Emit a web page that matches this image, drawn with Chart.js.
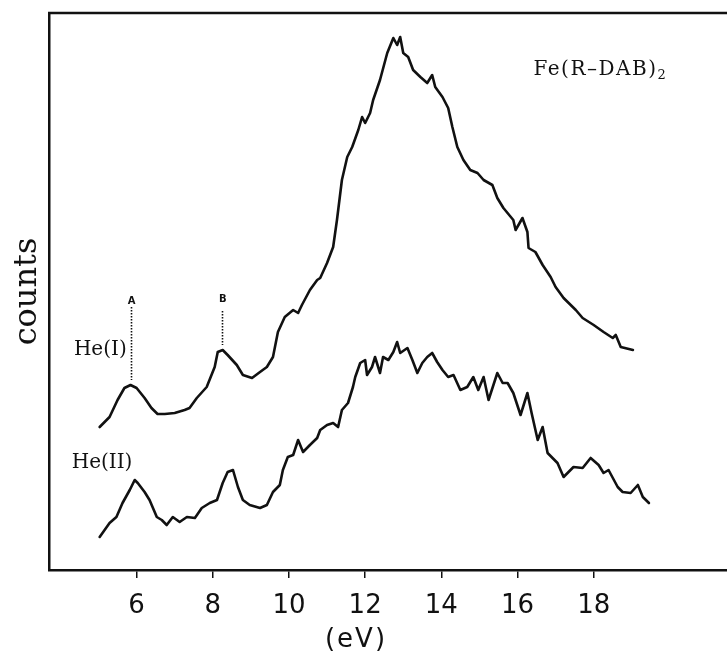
<!DOCTYPE html>
<html><head><meta charset="utf-8">
<script src="https://cdn.jsdelivr.net/npm/chart.js@4.4.1/dist/chart.umd.min.js"></script>
<style>html,body{margin:0;padding:0;background:#fff}canvas{display:block}</style>
</head><body>
<canvas id="c" width="727" height="651"></canvas>
<script>
// ---- data (photon energy in eV, counts in arbitrary units) ----
const xTicks = [6, 8, 10, 12, 14, 16, 18];

const heI_eV = [5.03,5.29,5.50,5.68,5.84,6.00,6.21,6.39,6.55,6.74,7.00,7.26,7.39,7.58,7.84,8.05,8.13,8.26,8.39,8.63,8.79,9.03,9.24,9.42,9.58,9.71,9.89,10.11,10.24,10.34,10.55,10.74,10.82,11.00,11.16,11.26,11.39,11.53,11.66,11.82,11.92,12.00,12.13,12.21,12.39,12.58,12.74,12.84,12.92,13.00,13.13,13.26,13.45,13.63,13.76,13.84,14.03,14.18,14.29,14.42,14.58,14.76,14.95,15.11,15.34,15.47,15.63,15.89,15.95,16.13,16.26,16.29,16.47,16.66,16.87,17.00,17.21,17.53,17.71,18.00,18.26,18.50,18.58,18.71,19.03];
const heI_counts = [143,153,170,182,185,182,172,162,156,156,157,160,162,172,183,203,218,220,215,205,195,192,198,203,213,238,253,260,257,265,280,290,292,307,323,350,390,413,423,440,453,447,457,470,490,517,532,525,533,517,513,500,493,487,495,483,473,462,443,423,410,400,397,390,385,372,362,350,340,352,338,322,318,305,293,283,272,260,252,245,238,232,235,223,220];

const heII_eV = [5.03,5.29,5.47,5.63,5.82,5.95,6.03,6.21,6.34,6.53,6.66,6.79,6.95,7.13,7.32,7.53,7.71,7.92,8.11,8.26,8.39,8.53,8.66,8.79,8.97,9.24,9.42,9.58,9.76,9.84,9.97,10.11,10.24,10.37,10.55,10.74,10.82,11.00,11.16,11.29,11.39,11.55,11.68,11.74,11.87,12.00,12.05,12.18,12.26,12.39,12.47,12.61,12.74,12.84,12.92,13.11,13.24,13.37,13.50,13.63,13.76,13.89,14.03,14.18,14.32,14.50,14.68,14.84,14.97,15.11,15.24,15.47,15.61,15.74,15.89,16.08,16.26,16.37,16.53,16.66,16.79,17.05,17.21,17.47,17.71,17.92,18.13,18.26,18.39,18.63,18.76,18.97,19.16,19.29,19.45];
const heII_counts = [33,47,53,67,80,90,87,78,70,53,50,45,53,48,53,52,62,67,70,87,98,100,83,70,65,62,65,78,85,100,113,115,130,118,125,132,140,145,147,143,160,167,183,193,207,210,195,203,213,197,213,210,218,228,217,222,210,197,207,213,217,208,200,193,195,180,183,193,180,193,170,197,187,187,177,155,177,157,130,143,117,107,93,103,102,112,105,97,100,83,78,77,85,73,67];

// ---- annotations ----
const seriesNames = ['He(I)', 'He(II)'];
const peakNames = ['A', 'B'];
const peakEV = [5.84, 8.24];
const peakLineTop = [263, 259];
const peakLineBottom = [190, 225];
const peakLabelY = [269, 271];
const seriesLabelEV = [5.74, 5.89];
const seriesLabelY = [220, 107];
const compoundEV = 16.42, compoundY = 500;
const axisTitleEV = 11.76;

const BLACK = '#111';

const annot = {
  id: 'annot',
  afterDatasetsDraw(chart) {
    const ctx = chart.ctx, xs = chart.scales.x, ys = chart.scales.y, ca = chart.chartArea;
    ctx.save();
    // top frame line
    ctx.strokeStyle = BLACK; ctx.lineWidth = 2.5;
    ctx.beginPath(); ctx.moveTo(ca.left - 1, ca.top); ctx.lineTo(ca.right, ca.top); ctx.stroke();
    // dotted peak markers
    ctx.lineWidth = 1.6; ctx.setLineDash([1.5, 1.5]);
    peakNames.forEach((n, i) => {
      const px = Math.round(xs.getPixelForValue(peakEV[i])) + 0.5;
      ctx.beginPath();
      ctx.moveTo(px, ys.getPixelForValue(peakLineTop[i]));
      ctx.lineTo(px, ys.getPixelForValue(peakLineBottom[i]));
      ctx.stroke();
    });
    ctx.setLineDash([]);
    ctx.fillStyle = BLACK;
    ctx.font = 'bold 10px "DejaVu Sans"';
    ctx.textAlign = 'center'; ctx.textBaseline = 'middle';
    peakNames.forEach((n, i) => {
      ctx.fillText(n, xs.getPixelForValue(peakEV[i]) + 1, ys.getPixelForValue(peakLabelY[i]));
    });
    // series labels
    ctx.font = '20px "DejaVu Serif"';
    ctx.textAlign = 'right';
    seriesNames.forEach((n, i) => {
      ctx.fillText(n, xs.getPixelForValue(seriesLabelEV[i]), ys.getPixelForValue(seriesLabelY[i]));
    });
    // compound label
    ctx.textAlign = 'left';
    ctx.font = '20px "DejaVu Serif"';
    if ('letterSpacing' in ctx) ctx.letterSpacing = '1.5px';
    const cx = xs.getPixelForValue(compoundEV), cy = ys.getPixelForValue(compoundY);
    const main = 'Fe(R\u2013DAB)';
    ctx.fillText(main, cx, cy);
    const w = ctx.measureText(main).width;
    ctx.font = '13px "DejaVu Serif"';
    ctx.fillText('2', cx + w, cy + 6);
    // x axis title
    ctx.font = '26px "DejaVu Sans"';
    if ('letterSpacing' in ctx) ctx.letterSpacing = '2px';
    ctx.textAlign = 'center';
    ctx.fillText('(eV)', xs.getPixelForValue(axisTitleEV), 640);
    if ('letterSpacing' in ctx) ctx.letterSpacing = '0px';
    ctx.restore();
  }
};

new Chart(document.getElementById('c'), {
  type: 'line',
  data: {
    datasets: [
      { label: seriesNames[0], data: heI_eV.map((x, i) => ({ x, y: heI_counts[i] })) },
      { label: seriesNames[1], data: heII_eV.map((x, i) => ({ x, y: heII_counts[i] })) }
    ]
  },
  options: {
    responsive: false, animation: false, devicePixelRatio: 1,
    layout: { padding: { top: 13, left: 0, right: 0, bottom: 0 } },
    elements: {
      line: { borderColor: BLACK, borderWidth: 2.6, tension: 0, fill: false, borderJoinStyle: 'round', borderCapStyle: 'round' },
      point: { radius: 0, hoverRadius: 0 }
    },
    plugins: { legend: { display: false }, tooltip: { enabled: false } },
    scales: {
      x: {
        type: 'linear', min: 3.7, max: 21.5,
        afterBuildTicks(s) { s.ticks = xTicks.map(v => ({ value: v })); },
        afterFit(s) { s.height = 81; },
        border: { display: true, color: BLACK, width: 2.5 },
        grid: { drawOnChartArea: false, drawTicks: true, tickLength: 8, color: BLACK, lineWidth: 1.5 },
        ticks: { color: BLACK, padding: 13, maxRotation: 0, autoSkip: false,
                 font: { family: '"DejaVu Sans"', size: 26 }, callback: v => String(v) },
        title: { display: false }
      },
      y: {
        type: 'linear', min: 0, max: 557,
        afterFit(s) { s.width = 49; },
        border: { display: true, color: BLACK, width: 2.5 },
        grid: { display: false, drawTicks: false },
        ticks: { display: false },
        title: { display: true, text: 'counts', color: BLACK,
                 font: { family: '"DejaVu Serif"', size: 32 }, padding: { top: 8, bottom: 0 } }
      }
    }
  },
  plugins: [annot]
});
</script>
</body></html>
